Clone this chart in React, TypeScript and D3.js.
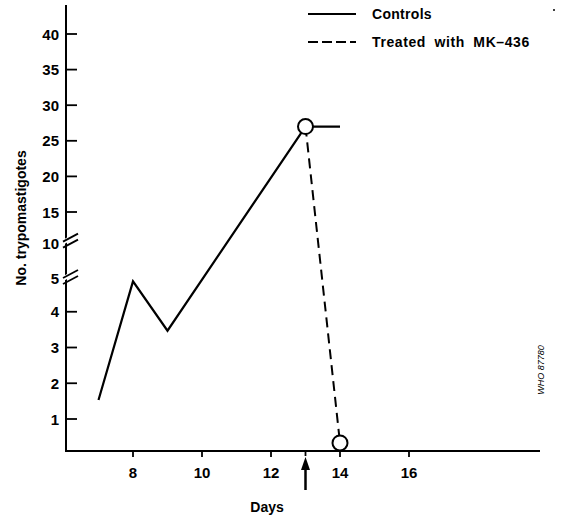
import React from "react";
import * as d3 from "d3";

const controlDays = [7, 8, 9, 13, 14];
const controlValues = [1.53, 4.85, 3.47, 27, 27];
const treatedDays = [13, 14];
const treatedValues = [27, 0.33];
const markerDays = [13, 14];
const markerValues = [27, 0.33];
const xTicks = [8, 10, 12, 14, 16];
const yLowTicks = [1, 2, 3, 4, 5];
const yHighTicks = [10, 15, 20, 25, 30, 35, 40];
const legendLabels = ["Controls", "Treated with MK\u2013436"];

const W = 561;
const H = 517;
const axisX = 66;
const axisY = 451;
const font = "'Liberation Sans', Arial, Helvetica, sans-serif";

export default function App() {
  const x = d3.scaleLinear().domain([8, 16]).range([133, 409]);
  const yLow = d3.scaleLinear().domain([1, 5]).range([419, 276]);
  const yHigh = d3.scaleLinear().domain([15, 40]).range([212, 34]);
  const y = (v: number) => (v <= 5 ? yLow(v) : yHigh(v));

  const line = d3
    .line<[number, number]>()
    .x((d) => x(d[0]))
    .y((d) => y(d[1]));

  const controls = controlDays.map((d, i) => [d, controlValues[i]] as [number, number]);
  const treated = treatedDays.map((d, i) => [d, treatedValues[i]] as [number, number]);

  const breakYs = [yHigh(10) - 8, yLow(5)];

  return (
    <svg
      width={W}
      height={H}
      style={{ position: "absolute", left: 0, top: 0, background: "#fff" }}
      fontFamily={font}
    >
      {/* axes */}
      <line x1={axisX} y1={5} x2={axisX} y2={axisY + 1} stroke="#000" strokeWidth={2} />
      <line x1={axisX - 1} y1={axisY} x2={540} y2={axisY} stroke="#000" strokeWidth={2} />

      {/* axis breaks */}
      {breakYs.map((by, i) => (
        <g key={i}>
          <polygon
            points={`${axisX - 4},${by + 6} ${axisX + 11},${by - 3} ${axisX + 11},${by - 8} ${axisX - 4},${by + 1}`}
            fill="#fff"
          />
          <line x1={axisX - 3} y1={by + 8} x2={axisX + 12} y2={by} stroke="#000" strokeWidth={1.8} />
          <line x1={axisX - 3} y1={by + 2} x2={axisX + 12} y2={by - 6} stroke="#000" strokeWidth={1.8} />
        </g>
      ))}

      {/* y ticks lower */}
      {yLowTicks.map((t) => (
        <g key={"l" + t}>
          {t < 5 && (
            <line x1={axisX} x2={axisX + 11} y1={yLow(t)} y2={yLow(t)} stroke="#000" strokeWidth={1.8} />
          )}
          <text
            x={axisX - 7}
            y={yLow(t) + (t === 5 ? 2 : 0)}
            textAnchor="end"
            dominantBaseline="central"
            fontSize={15}
            fontWeight="bold"
          >
            {t}
          </text>
        </g>
      ))}
      {/* y ticks upper */}
      {yHighTicks.map((t) => (
        <g key={"h" + t}>
          {t > 10 && (
            <line x1={axisX} x2={axisX + 11} y1={yHigh(t)} y2={yHigh(t)} stroke="#000" strokeWidth={1.8} />
          )}
          <text
            x={axisX - 7}
            y={yHigh(t) - (t === 10 ? 4 : 0)}
            textAnchor="end"
            dominantBaseline="central"
            fontSize={15}
            fontWeight="bold"
          >
            {t}
          </text>
        </g>
      ))}

      {/* x ticks */}
      {xTicks.map((t) => (
        <g key={"x" + t}>
          <line x1={x(t)} x2={x(t)} y1={axisY} y2={axisY + 6} stroke="#000" strokeWidth={1.8} />
          <text x={x(t)} y={472} textAnchor="middle" dominantBaseline="central" fontSize={15} fontWeight="bold">
            {t}
          </text>
        </g>
      ))}
      <line x1={x(13)} x2={x(13)} y1={axisY} y2={axisY + 5} stroke="#000" strokeWidth={1.8} />

      {/* arrow */}
      <line x1={x(13)} x2={x(13)} y1={490} y2={464} stroke="#000" strokeWidth={2.5} />
      <polygon
        points={`${x(13)},${457} ${x(13) - 4.5},${470} ${x(13) + 4.5},${470}`}
        fill="#000"
      />

      {/* axis labels */}
      <text x={267} y={507} textAnchor="middle" dominantBaseline="central" fontSize={14} fontWeight="bold">
        Days
      </text>
      <text
        transform={`translate(21,218) rotate(-90)`}
        textAnchor="middle"
        dominantBaseline="central"
        fontSize={14}
        fontWeight="bold"
      >
        No. trypomastigotes
      </text>

      {/* data lines */}
      <path d={line(controls) || ""} fill="none" stroke="#000" strokeWidth={2.2} strokeLinejoin="miter" />
      <path d={line(treated) || ""} fill="none" stroke="#000" strokeWidth={2} strokeDasharray="10,6" />
      {markerDays.map((d, i) => (
        <circle key={d} cx={x(d)} cy={y(markerValues[i])} r={7.5} fill="#fff" stroke="#000" strokeWidth={2} />
      ))}

      {/* legend */}
      <line x1={308} x2={356} y1={14} y2={14} stroke="#000" strokeWidth={2} />
      <text x={372} y={14} dominantBaseline="central" fontSize={14} fontWeight="bold" letterSpacing={0.3}>
        {legendLabels[0]}
      </text>
      <line x1={308} x2={356} y1={42} y2={42} stroke="#000" strokeWidth={2} strokeDasharray="10,4" />
      <text
        x={372}
        y={42}
        dominantBaseline="central"
        fontSize={14}
        fontWeight="bold"
        wordSpacing={4}
        letterSpacing={0.6}
      >
        {legendLabels[1]}
      </text>
      <circle cx={554} cy={10} r={1} fill="#000" />

      {/* credit */}
      <text
        transform={`translate(541,370) rotate(-90)`}
        textAnchor="middle"
        dominantBaseline="central"
        fontSize={9}
        fontStyle="italic"
      >
        WHO 87780
      </text>
    </svg>
  );
}
